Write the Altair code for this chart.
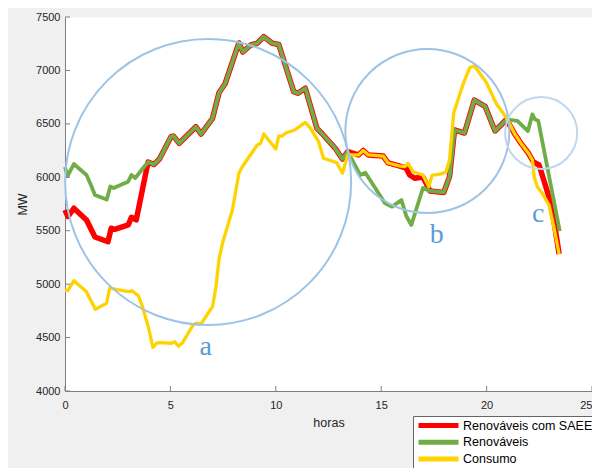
import altair as alt
import pandas as pd

# ---------------- data ----------------
hours_green = [0.00, 0.12, 0.42, 1.02, 1.23, 1.42, 1.98, 2.15, 2.31, 2.99, 3.15, 3.33, 3.94, 4.22, 4.48,
               5.03, 5.14, 5.42, 6.21, 6.45, 7.00, 7.31, 7.59, 8.25, 8.44, 8.81, 9.12, 9.43, 9.83, 10.14,
               10.85, 11.05, 11.40, 11.95, 12.18, 12.82, 13.16, 13.41, 14.01, 14.25, 15.17, 15.52, 15.96,
               16.19, 16.43, 16.98, 17.31, 17.97, 18.24, 18.48, 18.95, 19.42, 19.93, 20.40, 20.94, 21.46,
               21.96, 22.17, 22.29, 22.45, 23.47]
mw_green = [6096, 6012, 6124, 6021, 5928, 5834, 5792, 5914, 5900, 5959, 6021, 5993, 6143, 6120, 6171,
            6380, 6386, 6318, 6473, 6405, 6552, 6793, 6873, 7257, 7172, 7238, 7254, 7316, 7254, 7243,
            6801, 6786, 6833, 6458, 6412, 6271, 6171, 6240, 6021, 6043, 5759, 5725, 5787,
            5638, 5554, 5900, 5872, 5858, 6006, 6443, 6414, 6723, 6664, 6433, 6541, 6527,
            6433, 6588, 6543, 6530, 5497]

hours_red = [0.00, 0.14, 0.42, 1.02, 1.42, 2.04, 2.19, 2.36, 3.00, 3.15, 3.38, 3.94, 4.22, 4.48,
             5.03, 5.14, 5.42, 6.21, 6.45, 7.00, 7.31, 7.59, 8.25, 8.44, 8.81, 9.12, 9.43, 9.83, 10.14,
             10.85, 11.05, 11.40, 11.95, 12.18, 12.82, 13.16, 13.41, 13.92, 14.15, 14.39, 15.09, 15.33,
             15.85, 16.18, 16.35, 16.59, 16.98, 17.22, 17.31, 17.97, 18.24, 18.48, 18.95, 19.42, 19.93,
             20.40, 20.94, 21.32, 21.65, 21.98, 22.22, 22.49, 22.74, 22.97, 23.21, 23.44]
mw_red = [5694, 5633, 5710, 5600, 5441, 5397, 5523, 5513, 5554, 5626, 5601, 6143, 6120, 6171,
          6380, 6386, 6318, 6473, 6405, 6552, 6793, 6873, 7257, 7172, 7238, 7254, 7316, 7254, 7243,
          6801, 6786, 6833, 6458, 6412, 6271, 6171, 6240, 6209, 6251, 6209, 6199, 6134,
          6106, 6087, 6021, 5991, 6003, 5909, 5872, 5858, 6006, 6443, 6414, 6723, 6664,
          6433, 6541, 6410, 6312, 6227, 6143, 6115, 5956, 5806, 5572, 5282]

hours_yellow = [0.00, 0.14, 0.42, 1.01, 1.44, 1.97, 2.12, 2.41, 3.02, 3.18, 3.49, 3.68, 3.95, 4.17, 4.34,
                4.48, 5.05, 5.21, 5.38, 5.58, 6.08, 6.23, 6.45, 7.00, 7.16, 7.31, 7.47, 7.94, 8.25, 8.41,
                9.12, 9.28, 9.43, 10.00, 10.14, 10.30, 10.47, 10.90, 11.40, 11.65, 12.03, 12.26, 12.89,
                13.16, 13.41, 13.92, 14.15, 14.39, 15.09, 15.33, 15.85, 16.13, 16.27, 16.51, 16.98, 17.26,
                17.41, 17.84, 18.08, 18.24, 18.44, 18.87, 19.20, 19.42, 19.97, 20.47, 20.96, 21.32, 21.65,
                21.98, 22.17, 22.26, 22.41, 22.64, 22.96, 23.19, 23.44]
mw_yellow = [4941, 4941, 5032, 4931, 4765, 4821, 4964, 4952, 4929, 4939, 4889, 4786, 4602, 4409, 4447,
             4452, 4447, 4461, 4418, 4452, 4618, 4636, 4627, 4791, 4973, 5235, 5382, 5694, 6037, 6099,
             6302, 6318, 6405, 6265, 6386, 6386, 6414, 6443, 6513, 6458, 6333, 6178, 6137,
             6037, 6209, 6209, 6251, 6209, 6199, 6134, 6106, 6101, 6131, 6052, 6021, 5912,
             6017, 6031, 6052, 6162, 6602, 6864, 7027, 7041, 6895, 6686, 6552, 6410, 6312,
             6227, 6162, 6003, 5909, 5850, 5741, 5535, 5282]

series_names = ["Renováveis com SAEE", "Renováveis", "Consumo"]
series_colors = ["#FF0000", "#70AD47", "#FFD200"]

x_ticks = [0, 5, 10, 15, 20, 25]
y_ticks = [4000, 4500, 5000, 5500, 6000, 6500, 7000, 7500]

# annotation circles (centre in data units) and their letters
circle_hours = [6.79, 17.19, 22.59]
circle_mw = [5956, 6433, 6414]
letter_text = ["a", "b", "c"]
letter_hours = [6.67, 17.64, 22.45]
letter_mw = [4337, 5385, 5582]

# ---------------- styles ----------------
FONT = "Liberation Sans"
AXIS_COLOR = "#808080"
TEXT_COLOR = "#262626"
W, H = 527, 374
circle_diam = [286, 164, 72]
circle_colors = ["#9DC3E6", "#9DC3E6", "#BDD7EE"]
line_widths = [5.5, 3.8, 3.3]


def frame(xs, ys, name):
    return pd.DataFrame({"horas": xs, "MW": ys, "serie": name, "ordem": list(range(len(xs)))})


frames = [frame(hours_red, mw_red, series_names[0]),
          frame(hours_green, mw_green, series_names[1]),
          frame(hours_yellow, mw_yellow, series_names[2])]

x_scale = alt.Scale(domain=[0, 25], nice=False, zero=False)
y_scale = alt.Scale(domain=[4000, 7500], nice=False, zero=False)

x_axis = alt.Axis(values=x_ticks, ticks=False, tickSize=0, labelPadding=8, labelFlush=False,
                  labelAlign={"condition": {"test": "datum.value >= 25", "value": "right"},
                              "value": "center"},
                  domainColor=AXIS_COLOR, domainWidth=1, labelColor=TEXT_COLOR, labelFont=FONT,
                  labelFontSize=11, grid=False, title="horas", titleFont=FONT, titleFontSize=12.5,
                  titleFontWeight="normal", titleColor=TEXT_COLOR, titleX=W / 2, titleY=31,
                  titleBaseline="middle", format="d")
y_axis = alt.Axis(values=y_ticks, ticks=False, tickSize=0, labelPadding=5, labelFlush=False,
                  domainColor=AXIS_COLOR, domainWidth=1, labelColor=TEXT_COLOR, labelFont=FONT,
                  labelFontSize=11, grid=False, title="MW", titleFont=FONT, titleFontSize=12.5,
                  titleFontWeight="normal", titleColor=TEXT_COLOR, titleX=-43, titleY=H / 2,
                  titleBaseline="middle", format="d")

color_enc = alt.Color("serie:N",
                      scale=alt.Scale(domain=series_names, range=series_colors),
                      legend=alt.Legend(title=None, orient="none", legendX=348, legendY=399,
                                        fillColor="white", strokeColor="#666666", padding=3,
                                        labelFont=FONT, labelFontSize=12.5, labelColor="black",
                                        labelOffset=32, symbolType="M-1,0H7", symbolSize=100,
                                        symbolStrokeWidth=5, rowPadding=3.7, clipHeight=13,
                                        labelLimit=300))

layers = []
for i, df in enumerate(frames):
    layers.append(
        alt.Chart(df).mark_line(strokeWidth=line_widths[i], strokeJoin="round").encode(
            x=alt.X("horas:Q", scale=x_scale, axis=x_axis),
            y=alt.Y("MW:Q", scale=y_scale, axis=y_axis),
            color=color_enc,
            order=alt.Order("ordem:Q"),
        )
    )

# inward tick marks (MATLAB style)
xt = alt.Chart(pd.DataFrame({"horas": x_ticks})).mark_rule(color=AXIS_COLOR, strokeWidth=1).encode(
    x="horas:Q", y=alt.value(H), y2=alt.value(H - 5))
yt = alt.Chart(pd.DataFrame({"MW": y_ticks})).mark_rule(color=AXIS_COLOR, strokeWidth=1).encode(
    y="MW:Q", x=alt.value(0), x2=alt.value(5))
layers += [xt, yt]

for i in range(3):
    layers.append(
        alt.Chart(pd.DataFrame({"horas": [circle_hours[i]], "MW": [circle_mw[i]]})).mark_point(
            shape="circle", filled=False, size=circle_diam[i] ** 2, strokeWidth=2,
            color=circle_colors[i], opacity=1).encode(x="horas:Q", y="MW:Q")
    )

letters = alt.Chart(pd.DataFrame({"horas": letter_hours, "MW": letter_mw, "t": letter_text})).mark_text(
    font="Liberation Serif", fontSize=28, color="#5B9BD5", baseline="alphabetic", align="center").encode(
    x="horas:Q", y="MW:Q", text="t:N")
layers.append(letters)

chart = alt.layer(*layers).properties(
    width=W, height=H,
    autosize=alt.AutoSizeParams(type="none"),
    padding={"left": 57, "top": 9, "right": 0, "bottom": 77},
    background="#F0F0F0",
).configure_view(fill="white", stroke="transparent")

chart.save("out.html", embed_options={"renderer": "svg", "actions": False})
